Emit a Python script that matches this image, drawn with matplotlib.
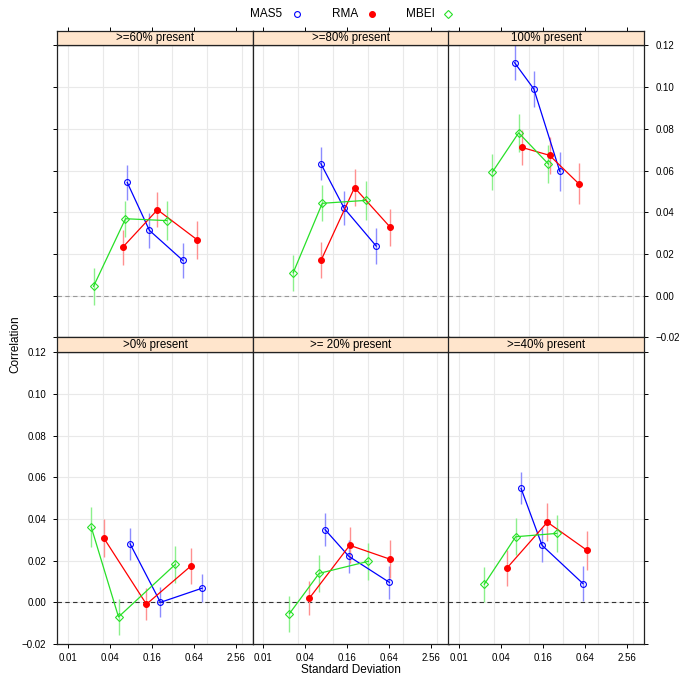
import matplotlib
matplotlib.use('Agg')
import matplotlib.pyplot as plt
from matplotlib.lines import Line2D
from matplotlib.ticker import NullLocator, FixedLocator, FixedFormatter
import numpy as np

plt.rcParams['font.family'] = ['Liberation Sans', 'DejaVu Sans']

# ---------------- data ----------------
panel_titles = [">=60% present", ">=80% present", "100% present",
                ">0% present", ">= 20% present", ">=40% present"]

series_names = ["MAS5", "RMA", "MBEI"]

mas5_x = [[0.071, 0.148, 0.448], [0.067, 0.145, 0.418], [0.063, 0.119, 0.281],
          [0.078, 0.213, 0.846], [0.077, 0.169, 0.646], [0.078, 0.156, 0.605]]
mas5_y = [[0.0543, 0.0313, 0.0169], [0.0633, 0.0419, 0.0238], [0.1117, 0.0991, 0.0596],
          [0.0281, 0.0000, 0.0068], [0.0349, 0.0221, 0.0096], [0.0547, 0.0274, 0.0090]]
mas5_err = [[0.0082, 0.0082, 0.0086], [0.0080, 0.0082, 0.0086], [0.0085, 0.0088, 0.0093],
            [0.0078, 0.0072, 0.0068], [0.0078, 0.0078, 0.0078], [0.0077, 0.0082, 0.0084]]

rma_x = [[0.0615, 0.193, 0.718], [0.0677, 0.204, 0.670], [0.080, 0.200, 0.526],
         [0.0327, 0.134, 0.581], [0.0458, 0.174, 0.662], [0.049, 0.186, 0.690]]
rma_y = [[0.0233, 0.0412, 0.0268], [0.0171, 0.0518, 0.0327], [0.0711, 0.0673, 0.0537],
         [0.0309, -0.0009, 0.0174], [0.0020, 0.0274, 0.0207], [0.0165, 0.0385, 0.0250]]
rma_err = [[0.0084, 0.0084, 0.0092], [0.0085, 0.0088, 0.0090], [0.0085, 0.0088, 0.0097],
           [0.0090, 0.0078, 0.0085], [0.0082, 0.0086, 0.0090], [0.0085, 0.0092, 0.0093]]

mbei_x = [[0.0233, 0.067, 0.263], [0.0268, 0.0701, 0.297], [0.0302, 0.072, 0.193],
          [0.0216, 0.0532, 0.350], [0.0237, 0.0632, 0.322], [0.0231, 0.0653, 0.253]]
mbei_y = [[0.0045, 0.0369, 0.0360], [0.0110, 0.0443, 0.0457], [0.0593, 0.0781, 0.0631],
          [0.0361, -0.0070, 0.0183], [-0.0054, 0.0139, 0.0197], [0.0087, 0.0315, 0.0331]]
mbei_err = [[0.0088, 0.0086, 0.0092], [0.0086, 0.0086, 0.0092], [0.0084, 0.0092, 0.0093],
            [0.0096, 0.0085, 0.0088], [0.0086, 0.0088, 0.0088], [0.0085, 0.0090, 0.0090]]

x_ticks = [0.01, 0.04, 0.16, 0.64, 2.56]
x_tick_labels = ["0.01", "0.04", "0.16", "0.64", "2.56"]
y_ticks = [-0.02, 0.00, 0.02, 0.04, 0.06, 0.08, 0.10, 0.12]
y_tick_labels = ["\u22120.02", "0.00", "0.02", "0.04", "0.06", "0.08", "0.10", "0.12"]

# ---------------- styling ----------------
W = H = 685.0
fig = plt.figure(figsize=(6.85, 6.85), dpi=100)

def fx(px):
    return px / W

def fy(py):
    return 1 - py / H

col_left = [57.3, 252.7, 448.3]
panel_w = 195.8
rows = [  # (strip_top, strip_bottom/panel_top, panel_bottom)
    (31.2, 44.8, 337.4),
    (337.4, 351.8, 644.0),
]

xlim = (2 ** -7.154, 2 ** 2.192)
ylim = (-0.02, 0.1203)
x_grid = [10 ** e for e in (-2, -1.5, -1, -0.5, 0, 0.5)]
y_grid = y_ticks

styles = {
    "MAS5": dict(color="#0000FF", ecolor="#8C8CFF", marker="o", mfc="none", ms=4.2),
    "RMA": dict(color="#FF0000", ecolor="#FF9090", marker="o", mfc="#FF0000", ms=4.2),
    "MBEI": dict(color="#28E028", ecolor="#8CF08C", marker="D", mfc="none", ms=3.8),
}
data = {
    "MAS5": (mas5_x, mas5_y, mas5_err),
    "RMA": (rma_x, rma_y, rma_err),
    "MBEI": (mbei_x, mbei_y, mbei_err),
}

tick_kw = dict(direction="out", length=3.0, width=0.7, labelsize=7.0, color="black")

for i, title in enumerate(panel_titles):
    r, c = divmod(i, 3)
    s_top, p_top, p_bot = rows[r]
    L = col_left[c]
    ax = fig.add_axes([fx(L), fy(p_bot), panel_w / W, (p_bot - p_top) / H])
    ax.set_xscale("log", base=2)
    ax.set_xlim(*xlim)
    ax.set_ylim(*ylim)
    for g in x_grid:
        ax.axvline(g, color="#E9E9E9", lw=0.8, zorder=0)
    for g in y_grid:
        ax.axhline(g, color="#E9E9E9", lw=0.8, zorder=0)
    ax.axhline(0, color="#999999" if r == 0 else "#333333", lw=0.8,
               ls=(0, (4, 3)), zorder=1)

    for name in series_names:
        xs, ys, es = data[name]
        st = styles[name]
        x = np.array(xs[i]); y = np.array(ys[i]); e = np.array(es[i])
        ax.vlines(x, y - e, y + e, color=st["ecolor"], lw=1.0, zorder=2)
        ax.plot(x, y, color=st["color"], lw=0.9, marker=st["marker"],
                mfc=st["mfc"], mec=st["color"], ms=st["ms"], mew=0.8, zorder=3)

    ax.xaxis.set_minor_locator(NullLocator())
    ax.yaxis.set_minor_locator(NullLocator())
    ax.xaxis.set_major_locator(FixedLocator(x_ticks))
    ax.xaxis.set_major_formatter(FixedFormatter(x_tick_labels))
    ax.yaxis.set_major_locator(FixedLocator(y_ticks))
    ax.yaxis.set_major_formatter(FixedFormatter(y_tick_labels))
    ax.tick_params(axis="x", pad=3.2, **tick_kw)
    ax.tick_params(axis="y", pad=5.0, **tick_kw)

    if r == 0:
        ax.tick_params(axis="x", bottom=False, labelbottom=False, top=False)
    else:
        ax.tick_params(axis="x", bottom=True, labelbottom=True, top=False)

    left_t = (c == 0)
    right_t = (c == 2)
    ax.tick_params(axis="y", left=left_t, right=right_t,
                   labelleft=(left_t and r == 1), labelright=(right_t and r == 0))

    for sp in ax.spines.values():
        sp.set_color("#222222")
        sp.set_linewidth(0.9)

    # strip
    sax = fig.add_axes([fx(L), fy(p_top), panel_w / W, (p_top - s_top) / H])
    sax.set_facecolor("#FFE5CC")
    sax.set_xscale("log", base=2)
    sax.set_xlim(*xlim)
    sax.set_ylim(0, 1)
    sax.xaxis.set_minor_locator(NullLocator())
    sax.xaxis.set_major_locator(FixedLocator(x_ticks))
    sax.set_yticks([])
    sax.tick_params(axis="x", bottom=False, labelbottom=False, labeltop=False,
                    top=(r == 0), **tick_kw)
    for sp in sax.spines.values():
        sp.set_color("#222222")
        sp.set_linewidth(0.9)
    sax.text(0.5, 0.47, title, transform=sax.transAxes, ha="center", va="center",
             fontsize=8.3)

# axis labels
fig.text(fx(350.5), fy(670), "Standard Deviation", ha="center", va="center", fontsize=8.5)
fig.text(fx(15), fy(344), "Correlation", ha="center", va="center", rotation=90, fontsize=8.5)

# key at top
key_y = fy(14)
key = [("MAS5", 250.0, 296.7), ("RMA", 331.7, 371.7), ("MBEI", 405.7, 448.3)]
for name, tx, mx in key:
    st = styles[name]
    fig.text(fx(tx), key_y, name, ha="left", va="center", fontsize=8.5)
    fig.add_artist(Line2D([fx(mx)], [key_y], transform=fig.transFigure, ls="none",
                          marker=st["marker"], mfc=st["mfc"], mec=st["color"],
                          ms=st["ms"], mew=0.8))

fig.savefig("out.png", dpi=100)
